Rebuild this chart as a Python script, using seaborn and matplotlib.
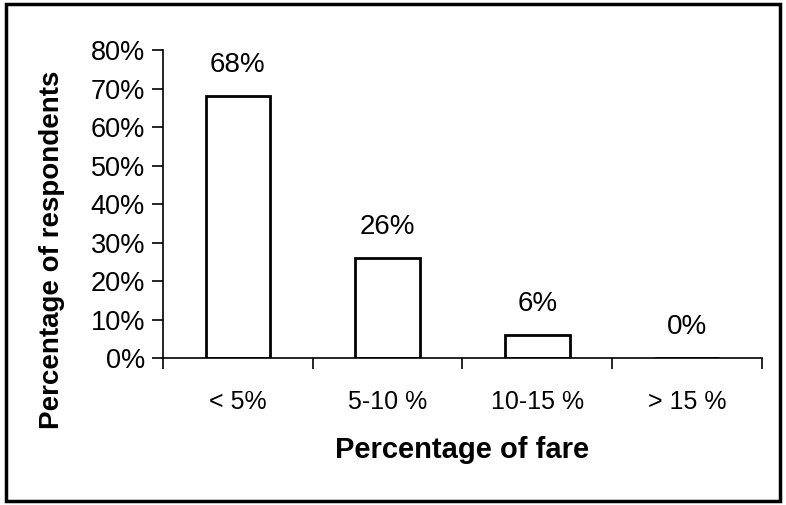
import matplotlib
matplotlib.use("Agg")
import matplotlib.pyplot as plt
import matplotlib.patches as mpatches
from matplotlib.ticker import FixedLocator, PercentFormatter
import seaborn as sns
import pandas as pd

categories = ["< 5%", "5-10 %", "10-15 %", "> 15 %"]
values = [68, 26, 6, 0]
value_labels = ["68%", "26%", "6%", "0%"]
yticks = [0, 10, 20, 30, 40, 50, 60, 70, 80]

sns.set_style("white")
plt.rcParams['font.family'] = ['Liberation Sans', 'DejaVu Sans']
plt.rcParams['text.color'] = 'black'
plt.rcParams['axes.labelcolor'] = 'black'
plt.rcParams['xtick.color'] = 'black'
plt.rcParams['ytick.color'] = 'black'

df = pd.DataFrame({"cat": categories, "val": values})

fig = plt.figure(figsize=(7.86, 5.05), dpi=100)
ax = fig.add_axes([0.2074, 0.291, 0.762, 0.61])

sns.barplot(data=df, x="cat", y="val", ax=ax, color="white",
            edgecolor="black", linewidth=2, width=0.43, saturation=1)

ax.set_xlim(-0.5, 3.5)
ax.set_ylim(0, 80)
ax.set_yticks(yticks)
ax.yaxis.set_major_formatter(PercentFormatter(decimals=0))
ax.tick_params(axis='y', which='major', direction='out', length=8, width=1.2,
               labelsize=19.5, pad=5, left=True, color='black', labelcolor='black')
ax.set_xticks(range(len(categories)))
ax.set_xticklabels(categories)
ax.tick_params(axis='x', which='major', length=0, labelsize=18, pad=23,
               labelcolor='black')
ax.xaxis.set_minor_locator(FixedLocator([-0.5, 0.5, 1.5, 2.5, 3.5]))
ax.tick_params(axis='x', which='minor', direction='out', length=8, width=1.2,
               bottom=True, color='black')

for s in ["top", "right"]:
    ax.spines[s].set_visible(False)
for s in ["left", "bottom"]:
    ax.spines[s].set_color("black")
    ax.spines[s].set_linewidth(1.2)

for i, (v, lab) in enumerate(zip(values, value_labels)):
    ax.text(i, v + 8, lab, ha="center", va="center", fontsize=20, color="black")

ax.set_xlabel("Percentage of fare", fontsize=21, fontweight="bold", labelpad=16,
              color="black")
ax.set_ylabel("Percentage of respondents", fontsize=20, fontweight="bold",
              color="black")
ax.yaxis.set_label_coords(-0.164, 0.35)

fig.patches.append(mpatches.Rectangle((0.008, 0.008), 0.984, 0.984,
                                      transform=fig.transFigure, fill=False,
                                      edgecolor="black", linewidth=2.5))

fig.savefig("out.png", dpi=100)
